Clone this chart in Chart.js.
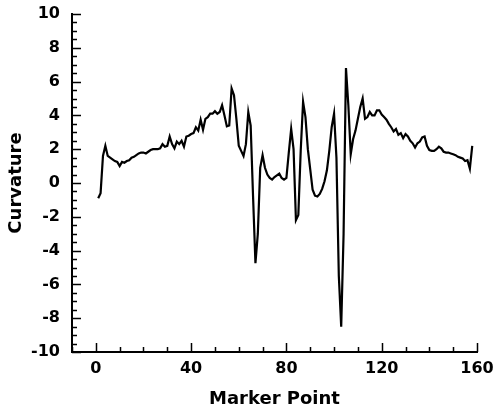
<!DOCTYPE html>
<html>
<head>
<meta charset="utf-8">
<script src="https://cdn.jsdelivr.net/npm/chart.js@4"></script>
<style>
  html, body { margin: 0; padding: 0; background: #fff; }
  #wrap { width: 494px; height: 412px; }
</style>
</head>
<body>
<div id="wrap"><canvas id="curvChart" width="494" height="412"></canvas></div>
<script>
// marker points 1..158
var markerPoints = []
for (var i = 1; i <= 158; i++) markerPoints.push(i)

// curvature values
var curvature = [
  -0.9, -0.6, 1.6, 2.2, 1.6, 1.5, 1.4, 1.3, 1.25, 1.0,
  1.25, 1.2, 1.3, 1.35, 1.5, 1.55, 1.65, 1.75, 1.8, 1.8,
  1.75, 1.85, 1.95, 2.0, 2.0, 2.0, 2.05, 2.3, 2.15, 2.2,
  2.75, 2.3, 2.05, 2.45, 2.3, 2.5, 2.15, 2.75, 2.8, 2.9,
  2.95, 3.3, 3.1, 3.75, 3.15, 3.8, 3.9, 4.1, 4.1, 4.25,
  4.1, 4.2, 4.6, 4.0, 3.35, 3.4, 5.6, 5.2, 3.8, 2.2,
  1.9, 1.6, 2.3, 4.2, 3.4, -0.8, -4.75, -3.0, 0.9, 1.65,
  0.9, 0.5, 0.3, 0.2, 0.35, 0.45, 0.55, 0.3, 0.2, 0.3,
  1.8, 3.2, 2.0, -2.2, -1.9, 1.9, 4.8, 3.9, 2.0, 0.8,
  -0.4, -0.75, -0.8, -0.65, -0.35, 0.1, 0.75, 1.9, 3.3, 4.1,
  1.5, -5.5, -8.5, -3.0, 6.8, 4.6, 1.7, 2.6, 3.1, 3.8,
  4.5, 5.0, 3.8, 3.9, 4.2, 4.0, 4.0, 4.3, 4.3, 4.05,
  3.9, 3.75, 3.5, 3.3, 3.05, 3.2, 2.85, 2.95, 2.65, 2.9,
  2.75, 2.5, 2.35, 2.1, 2.35, 2.45, 2.7, 2.75, 2.2, 1.95,
  1.9, 1.9, 2.0, 2.15, 2.05, 1.85, 1.8, 1.8, 1.75, 1.7,
  1.65, 1.55, 1.5, 1.45, 1.3, 1.35, 0.85, 2.2
]

var xTicks = [0, 40, 80, 120, 160]
var yTicks = [-10, -8, -6, -4, -2, 0, 2, 4, 6, 8, 10]

var points = markerPoints.map(function (x, i) { return { x: x, y: curvature[i] } })

// ticks drawn inside the axes (major + minor)
var innerTicks = {
  id: 'innerTicks',
  afterDraw: function (chart) {
    var ctx = chart.ctx
    var xs = chart.scales.x
    var ys = chart.scales.y
    var area = chart.chartArea
    ctx.save()
    ctx.strokeStyle = '#000'
    ctx.lineWidth = 1.5
    ctx.beginPath()
    for (var v = -10; v <= 160; v += 10) {
      var px = Math.round(xs.getPixelForValue(v)) + 0.5
      var len = (v % 40 === 0) ? 9 : 5
      ctx.moveTo(px, area.bottom)
      ctx.lineTo(px, area.bottom - len)
    }
    for (var w = -10; w <= 10; w += 0.5) {
      var py = Math.round(ys.getPixelForValue(w)) + 0.5
      var l = (w % 2 === 0) ? 9 : 5
      ctx.moveTo(area.left, py)
      ctx.lineTo(area.left + l, py)
    }
    ctx.stroke()
    ctx.restore()
  }
}

var tickFont = { family: 'DejaVu Sans, sans-serif', size: 16, weight: 'bold' }
var titleFont = { family: 'DejaVu Sans, sans-serif', size: 18, weight: 'bold' }

new Chart('curvChart', {
  type: 'scatter',
  data: {
    datasets: [{
      data: points,
      showLine: true,
      borderColor: '#000',
      borderWidth: 2.2,
      pointRadius: 0,
      tension: 0,
      fill: false
    }]
  },
  options: {
    responsive: false,
    animation: false,
    layout: { padding: 0 },
    plugins: { legend: { display: false }, tooltip: { enabled: false } },
    scales: {
      x: {
        type: 'linear',
        min: -10,
        max: 160,
        afterBuildTicks: function (scale) { scale.ticks = xTicks.map(function (v) { return { value: v } }) },
        afterFit: function (scale) {
          scale.height = 60
          scale.paddingLeft = 0
          scale.paddingRight = 17
        },
        grid: { display: false, drawTicks: false },
        border: { display: true, color: '#000', width: 2 },
        ticks: { color: '#000', font: tickFont, padding: 7, maxRotation: 0 },
        title: { display: true, text: 'Marker Point', color: '#000', font: titleFont, padding: 2 }
      },
      y: {
        type: 'linear',
        min: -10,
        max: 10,
        afterBuildTicks: function (scale) { scale.ticks = yTicks.map(function (v) { return { value: v } }) },
        afterFit: function (scale) {
          scale.width = 72
          scale.paddingTop = 14
          scale.paddingBottom = 0
        },
        grid: { display: false, drawTicks: false },
        border: { display: true, color: '#000', width: 2 },
        ticks: { color: '#000', font: tickFont, padding: 12 },
        title: { display: true, text: 'Curvature', color: '#000', font: titleFont, padding: 6 }
      }
    }
  },
  plugins: [innerTicks]
})
</script>
</body>
</html>
